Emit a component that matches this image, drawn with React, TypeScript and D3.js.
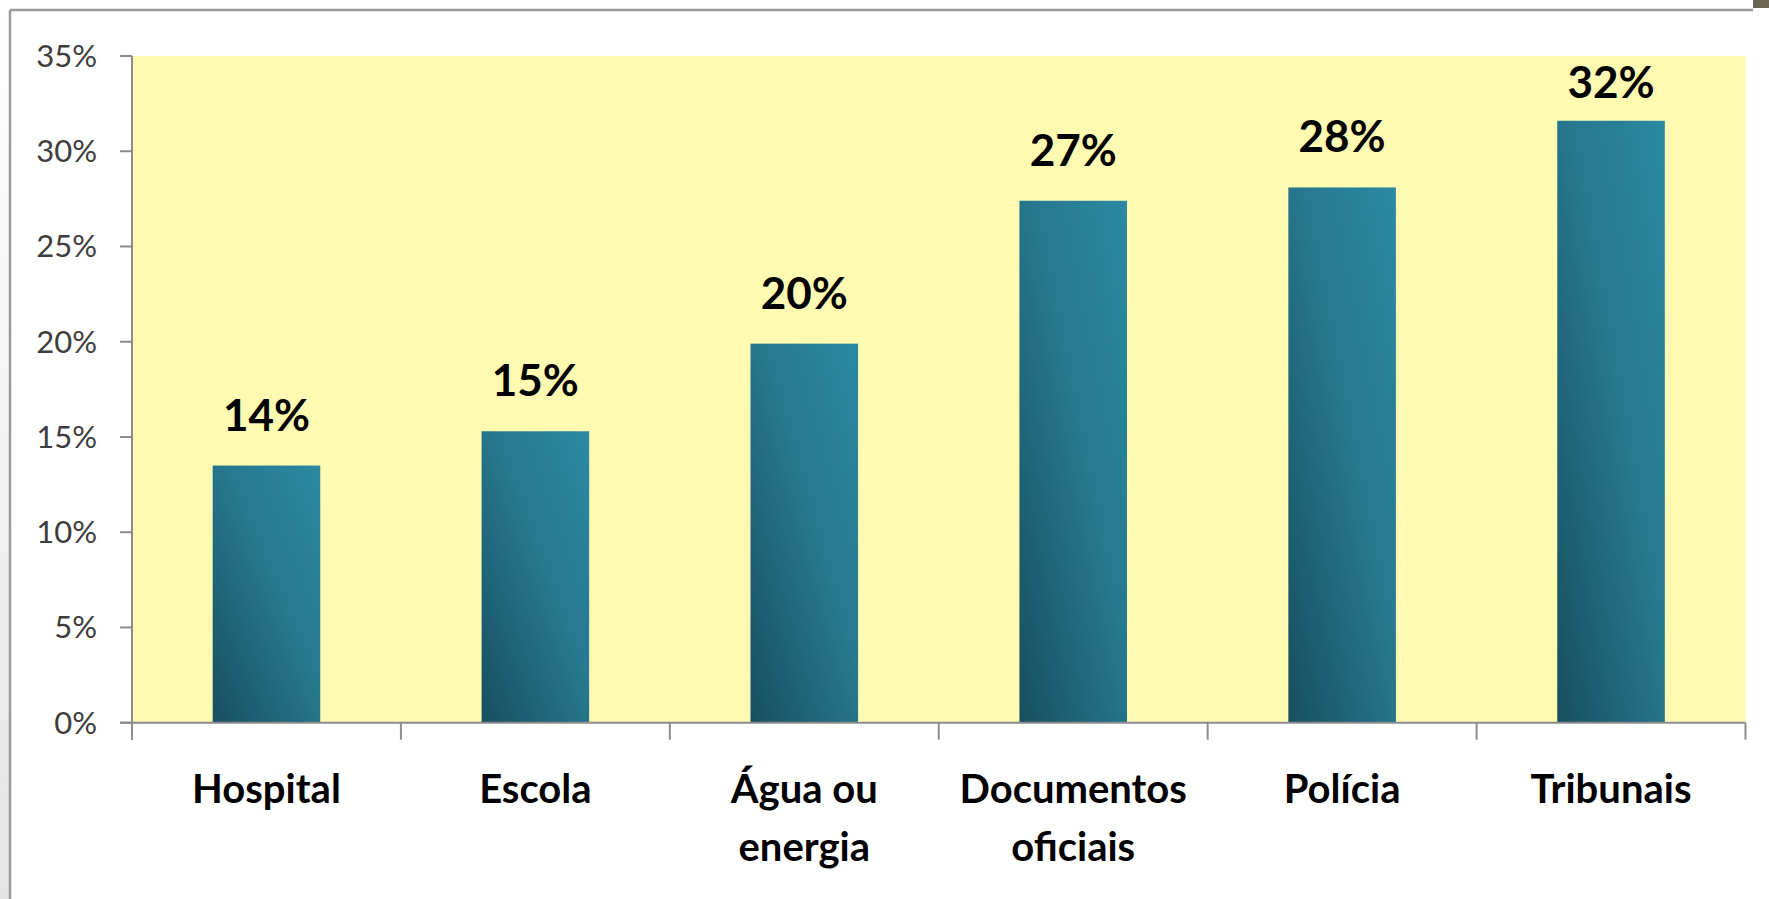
import React from "react";
import * as d3 from "d3";

const categories = ["Hospital", "Escola", "Água ou\nenergia", "Documentos\noficiais", "Polícia", "Tribunais"];
const values = [13.5, 15.3, 19.9, 27.4, 28.1, 31.6];
const yTicks = [0, 5, 10, 15, 20, 25, 30, 35];

const W = 1769;
const H = 899;
const plot = { left: 132, right: 1745.5, top: 56, bottom: 722.7 };

export default function App() {
  const x = d3
    .scaleBand<string>()
    .domain(categories)
    .range([plot.left, plot.right])
    .paddingInner(0.6)
    .paddingOuter(0.3);
  const y = d3.scaleLinear().domain([0, 35]).range([plot.bottom, plot.top]);
  const step = x.step();
  const boundaries = d3.range(categories.length + 1).map((i) => plot.left + i * step);
  const axisColor = "#8c8c8c";
  const font = "Lato, 'Open Sans', sans-serif";

  return (
    <svg
      width={W}
      height={H}
      style={{ position: "absolute", left: 0, top: 0, background: "#ffffff" }}
    >
      <defs>
        <linearGradient id="barGrad" x1="1" y1="0" x2="0" y2="1">
          <stop offset="0" stopColor="#2B89A2" />
          <stop offset="0.45" stopColor="#26788F" />
          <stop offset="1" stopColor="#184F5E" />
        </linearGradient>
        <linearGradient id="sideGrad" x1="0" y1="0" x2="0" y2="1">
          <stop offset="0" stopColor="#ffffff" />
          <stop offset="0.5" stopColor="#f2f2f2" />
          <stop offset="1" stopColor="#e4e4e4" />
        </linearGradient>
      </defs>
      {/* outer frame */}
      <rect x={0} y={0} width={9} height={H} fill="url(#sideGrad)" />
      <rect x={1753} y={0} width={16} height={8} fill="#6b6450" />
      <line x1={10} y1={10} x2={1753} y2={10} stroke="#9a9a9a" strokeWidth={2.5} />
      <line x1={10} y1={10} x2={10} y2={H} stroke="#9a9a9a" strokeWidth={2.5} />

      {/* plot area */}
      <rect
        x={plot.left}
        y={plot.top}
        width={plot.right - plot.left}
        height={plot.bottom - plot.top}
        fill="#FEFAB2"
      />

      {/* bars */}
      {categories.map((c, i) => (
        <rect
          key={c}
          x={x(c)}
          y={y(values[i])}
          width={x.bandwidth()}
          height={y(0) - y(values[i])}
          fill="url(#barGrad)"
        />
      ))}

      {/* y axis */}
      <line x1={plot.left} y1={plot.top} x2={plot.left} y2={plot.bottom + 17} stroke={axisColor} strokeWidth={2} />
      {yTicks.map((t) => (
        <g key={t}>
          <line x1={plot.left - 12} x2={plot.left} y1={y(t)} y2={y(t)} stroke={axisColor} strokeWidth={2} />
          <text
            x={97}
            y={y(t) + 11}
            textAnchor="end"
            fontFamily={font}
            fontSize={31}
            fill="#3d3d3d"
          >
            {`${t}%`}
          </text>
        </g>
      ))}

      {/* x axis */}
      <line x1={plot.left - 12} y1={plot.bottom} x2={plot.right} y2={plot.bottom} stroke={axisColor} strokeWidth={2} />
      {boundaries.map((bx, i) => (
        <line key={i} x1={bx} x2={bx} y1={plot.bottom} y2={plot.bottom + 17} stroke={axisColor} strokeWidth={2} />
      ))}

      {/* value labels */}
      {categories.map((c, i) => (
        <text
          key={c}
          x={(x(c) as number) + x.bandwidth() / 2}
          y={Math.max(y(values[i]) - 35, plot.top + 42)}
          textAnchor="middle"
          fontFamily={font}
          fontWeight={700}
          fontSize={44}
          fill="#000000"
        >
          {`${Math.round(values[i])}%`}
        </text>
      ))}

      {/* category labels */}
      {categories.map((c) => (
        <text
          key={c}
          x={(x(c) as number) + x.bandwidth() / 2}
          y={803}
          textAnchor="middle"
          fontFamily={font}
          fontWeight={700}
          fontSize={40}
          fill="#000000"
        >
          {c.split("\n").map((line, j) => (
            <tspan key={j} x={(x(c) as number) + x.bandwidth() / 2} dy={j === 0 ? 0 : 58}>
              {line}
            </tspan>
          ))}
        </text>
      ))}
    </svg>
  );
}
